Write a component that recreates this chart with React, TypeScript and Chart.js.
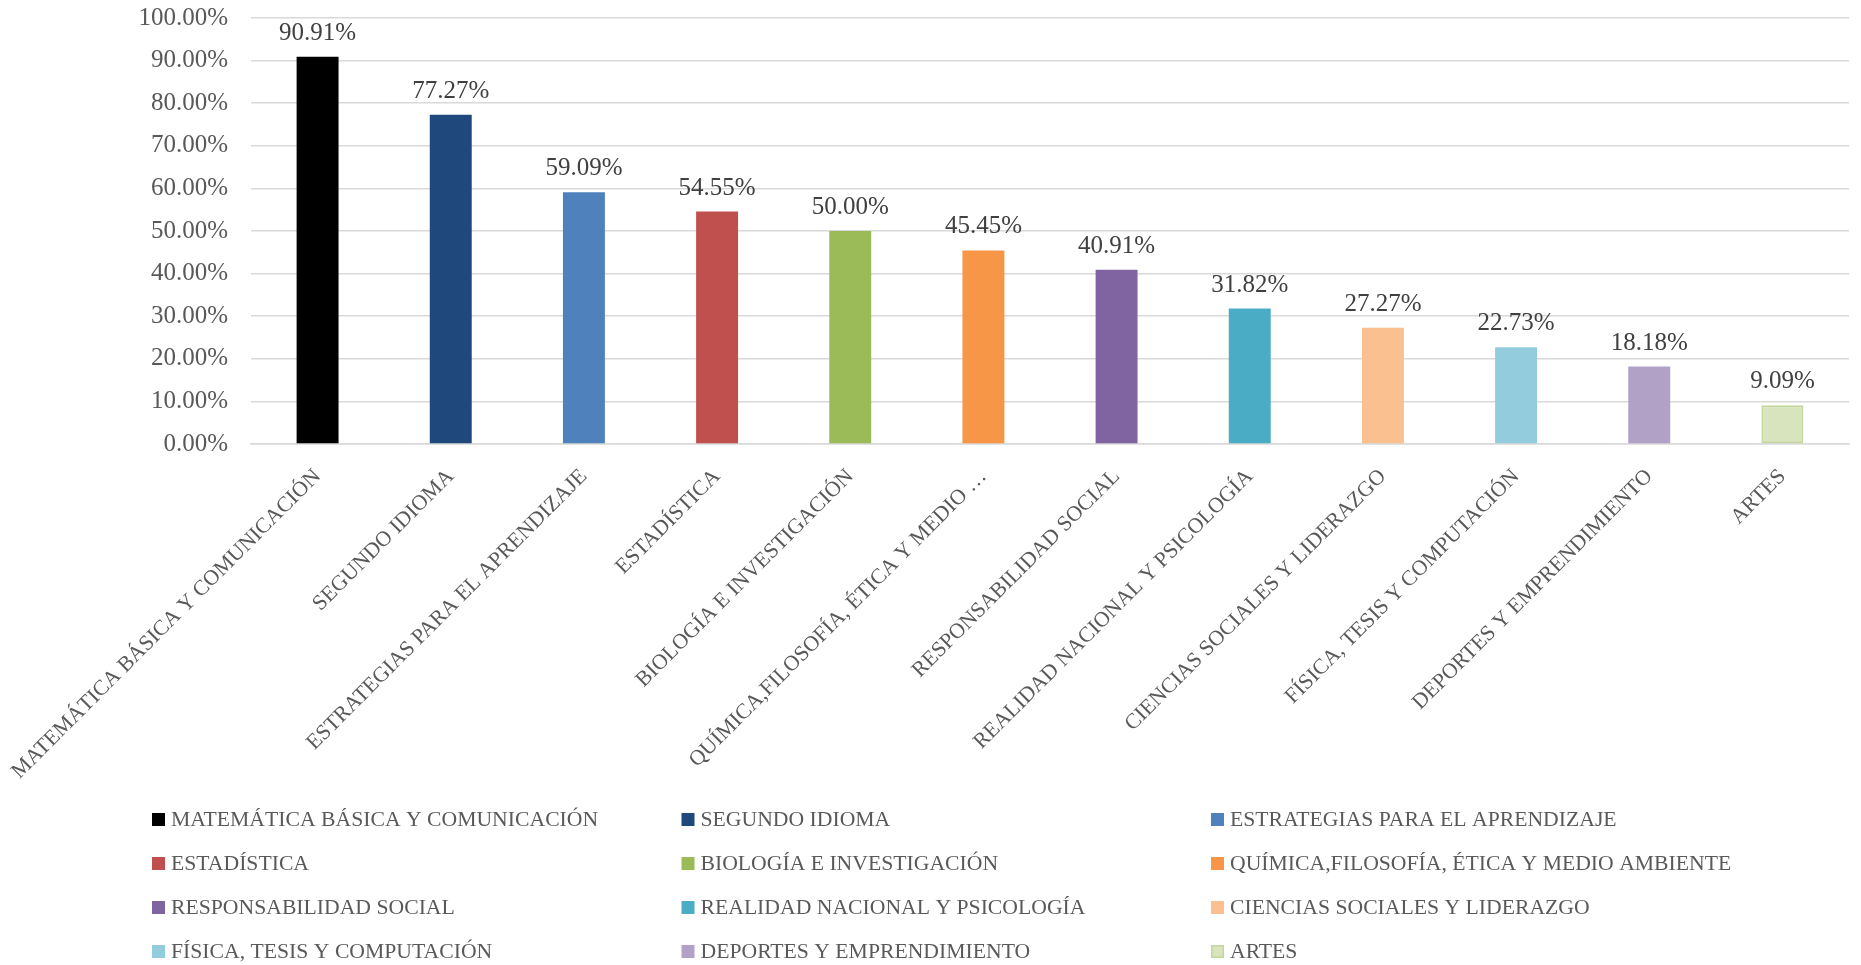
import React, { useEffect, useRef } from 'react';
import { Chart, registerables } from 'chart.js';

Chart.register(...registerables);

const axisLabels = [
  'MATEMÁTICA BÁSICA Y COMUNICACIÓN',
  'SEGUNDO IDIOMA',
  'ESTRATEGIAS PARA EL APRENDIZAJE',
  'ESTADÍSTICA',
  'BIOLOGÍA E INVESTIGACIÓN',
  'QUÍMICA,FILOSOFÍA, ÉTICA Y MEDIO …',
  'RESPONSABILIDAD SOCIAL',
  'REALIDAD NACIONAL Y PSICOLOGÍA',
  'CIENCIAS SOCIALES Y LIDERAZGO',
  'FÍSICA, TESIS Y COMPUTACIÓN',
  'DEPORTES Y EMPRENDIMIENTO',
  'ARTES',
];

const legendNames = [
  'MATEMÁTICA BÁSICA Y COMUNICACIÓN',
  'SEGUNDO IDIOMA',
  'ESTRATEGIAS PARA EL APRENDIZAJE',
  'ESTADÍSTICA',
  'BIOLOGÍA E INVESTIGACIÓN',
  'QUÍMICA,FILOSOFÍA, ÉTICA Y MEDIO AMBIENTE',
  'RESPONSABILIDAD SOCIAL',
  'REALIDAD NACIONAL Y PSICOLOGÍA',
  'CIENCIAS SOCIALES Y LIDERAZGO',
  'FÍSICA, TESIS Y COMPUTACIÓN',
  'DEPORTES Y EMPRENDIMIENTO',
  'ARTES',
];

const values = [90.91, 77.27, 59.09, 54.55, 50.0, 45.45, 40.91, 31.82, 27.27, 22.73, 18.18, 9.09];

const colors = [
  '#000000', '#1F497D', '#4F81BD', '#C0504D', '#9BBB59', '#F79646',
  '#8064A2', '#4BACC6', '#FAC090', '#93CDDD', '#B2A1C7', '#D7E4BD',
];

const borderColors = [
  '#000000', '#1F497D', '#4F81BD', '#C0504D', '#9BBB59', '#F79646',
  '#8064A2', '#4BACC6', '#FAC090', '#93CDDD', '#B2A1C7', '#C3D69B',
];

const borderWidths = [0, 0, 0, 0, 0, 0, 0, 0, 0, 0, 0, 2];

const FONT = "'Liberation Serif', 'Times New Roman', serif";

export default function App() {
  const ref = useRef<HTMLCanvasElement>(null);

  useEffect(() => {
    document.body.style.margin = '0';
    const canvas = ref.current;
    if (!canvas) return;

    const dataLabels = {
      id: 'dataLabels',
      afterDatasetsDraw(chart: any) {
        const ctx = chart.ctx;
        const meta = chart.getDatasetMeta(0);
        ctx.save();
        ctx.font = `25px ${FONT}`;
        ctx.fillStyle = '#404040';
        ctx.textAlign = 'center';
        ctx.textBaseline = 'bottom';
        meta.data.forEach((el: any, i: number) => {
          ctx.fillText(values[i].toFixed(2) + '%', el.x, el.y - 11);
        });
        ctx.restore();
      },
    };

    const gridLegend = {
      id: 'gridLegend',
      afterDraw(chart: any) {
        const ctx = chart.ctx;
        const x0 = 152;
        const colW = 529.5;
        const y0 = 819.5;
        const rowH = 44;
        const box = 13;
        ctx.save();
        ctx.font = `21.7px ${FONT}`;
        ctx.textBaseline = 'middle';
        ctx.textAlign = 'left';
        legendNames.forEach((name, i) => {
          const c = i % 3;
          const r = Math.floor(i / 3);
          const x = x0 + c * colW;
          const y = y0 + r * rowH;
          ctx.fillStyle = colors[i];
          ctx.fillRect(x, y - box / 2, box, box);
          if (borderWidths[i] > 0) {
            ctx.strokeStyle = borderColors[i];
            ctx.lineWidth = 1.5;
            ctx.strokeRect(x + 0.75, y - box / 2 + 0.75, box - 1.5, box - 1.5);
          }
          ctx.fillStyle = '#595959';
          ctx.fillText(name, x + 19, y + 1);
        });
        ctx.restore();
      },
    };

    const chart = new Chart(canvas, {
      type: 'bar',
      data: {
        labels: axisLabels,
        datasets: [
          {
            data: values,
            backgroundColor: colors,
            borderColor: borderColors,
            borderWidth: borderWidths,
            borderSkipped: false,
            categoryPercentage: 1,
            barPercentage: 0.315,
          } as any,
        ],
      },
      options: {
        responsive: false,
        animation: false,
        layout: { padding: { top: 18, right: 12, left: 0, bottom: 0 } },
        plugins: {
          legend: { display: false },
          tooltip: { enabled: false },
          title: { display: false },
        },
        scales: {
          y: {
            min: 0,
            max: 100,
            ticks: {
              stepSize: 10,
              callback: (v: any) => Number(v).toFixed(2) + '%',
              font: { family: FONT, size: 25 },
              color: '#595959',
              padding: 23,
            },
            grid: { color: '#D9D9D9', lineWidth: 1.5, drawTicks: false },
            border: { display: false },
            afterFit: (s: any) => {
              s.width = 251;
              s.paddingTop = 0;
              s.paddingBottom = 0;
            },
          },
          x: {
            grid: { display: false, drawTicks: false },
            border: { display: true, color: '#D9D9D9', width: 1.5 },
            ticks: {
              autoSkip: false,
              maxRotation: 45,
              minRotation: 45,
              font: { family: FONT, size: 21.7 },
              color: '#595959',
              padding: 20,
            },
            afterFit: (s: any) => {
              s.height = 521;
              s.paddingLeft = 0;
              s.paddingRight = 0;
            },
          },
        },
      },
      plugins: [dataLabels, gridLegend],
    });

    return () => chart.destroy();
  }, []);

  return (
    <div style={{ width: 1861, height: 965, position: 'relative' }}>
      <canvas ref={ref} width={1861} height={965} style={{ display: 'block', width: 1861, height: 965 }} />
    </div>
  );
}
